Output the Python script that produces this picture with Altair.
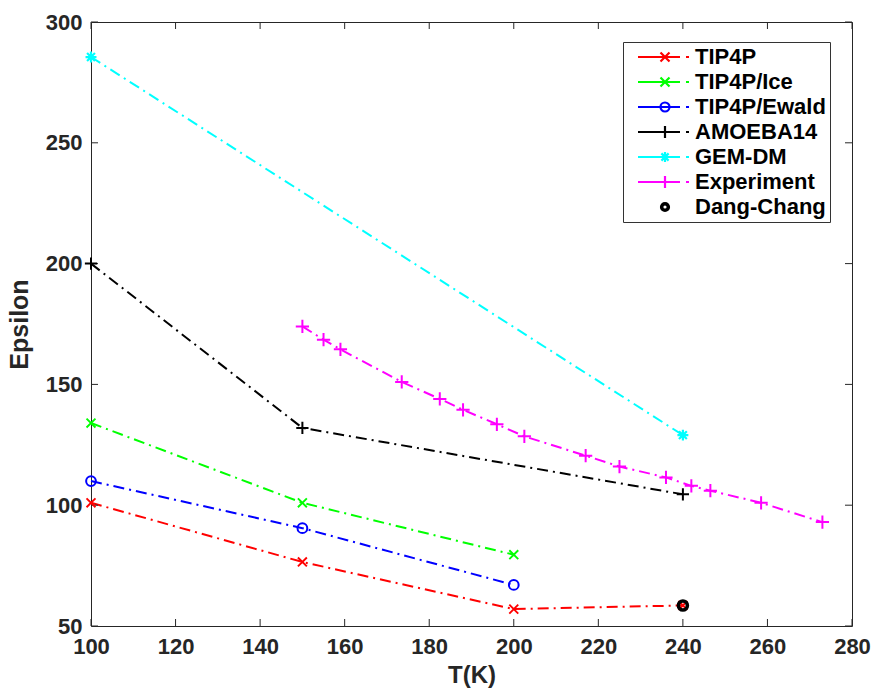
import altair as alt
import pandas as pd

# ---------------- data ----------------
series = ["TIP4P", "TIP4P/Ice", "TIP4P/Ewald", "AMOEBA14", "GEM-DM", "Experiment", "Dang-Chang"]
colors = ["#ff0000", "#00ff00", "#0000ff", "#000000", "#00ffff", "#ff00ff", "#000000"]

tip4p_T = [100, 150, 200, 240]
tip4p_E = [101, 76.5, 57, 58.5]
ice_T = [100, 150, 200]
ice_E = [134, 101, 79.5]
ewald_T = [100, 150, 200]
ewald_E = [110, 90.5, 67]
amoeba_T = [100, 150, 240]
amoeba_E = [200, 132, 104.5]
gem_T = [100, 240]
gem_E = [285.5, 129]
exp_T = [150, 155, 159, 173.5, 182.5, 188, 196, 202.5, 217, 225, 236, 242, 246.5, 258.5, 273]
exp_E = [174, 168.5, 164.5, 151, 144, 139.5, 133.5, 128.5, 120.5, 116, 111.5, 108, 106, 101, 93]
dc_T = [240]
dc_E = [58.5]

x_ticks = list(range(100, 281, 20))
y_ticks = list(range(50, 301, 50))

all_T = [tip4p_T, ice_T, ewald_T, amoeba_T, gem_T, exp_T, dc_T]
all_E = [tip4p_E, ice_E, ewald_E, amoeba_E, gem_E, exp_E, dc_E]

rows = []
for s, Ts, Es in zip(series, all_T, all_E):
    for i, (t, e) in enumerate(zip(Ts, Es)):
        rows.append({"series": s, "T": t, "E": e, "order": i})
df = pd.DataFrame(rows)

# ---------------- styles ----------------
FONT = "Liberation Sans"
AX = "#262626"
W, H = 761, 604
TICK = 7
X_PATH = "M-1,-1L1,1M-1,1L1,-1"
PLUS_PATH = "M-1,0L1,0M0,-1L0,1"
AST_PATH = "M-1,0L1,0M0,-1L0,1M-0.72,-0.72L0.72,0.72M-0.72,0.72L0.72,-0.72"

marker_shape = {"TIP4P": X_PATH, "TIP4P/Ice": X_PATH, "TIP4P/Ewald": "circle",
                "AMOEBA14": PLUS_PATH, "GEM-DM": AST_PATH, "Experiment": PLUS_PATH,
                "Dang-Chang": "circle"}
marker_size = {"TIP4P": 80, "TIP4P/Ice": 80, "TIP4P/Ewald": 95, "AMOEBA14": 150,
               "GEM-DM": 120, "Experiment": 175, "Dang-Chang": 80}
marker_sw = {"TIP4P": 1.9, "TIP4P/Ice": 1.9, "TIP4P/Ewald": 2.0, "AMOEBA14": 2.0,
             "GEM-DM": 2.2, "Experiment": 2.0, "Dang-Chang": 3.6}

# legend symbols: line + marker, in pixel units (symbolSize 4 -> scale 1)
LINE = "M0,0H42M48,0H51"
def leg_x(c, h):
    return f"M{c-h},{-h}L{c+h},{h}M{c-h},{h}L{c+h},{-h}"
def leg_plus(c, h):
    return f"M{c-h},0H{c+h}M{c},{-h}V{h}"
def leg_circle(c, r):
    return f"M{c-r},0A{r},{r} 0 1,0 {c+r},0A{r},{r} 0 1,0 {c-r},0"
def leg_ast(c, h):
    d = h * 0.72
    return leg_plus(c, h) + f"M{c-d},{-d}L{c+d},{d}M{c-d},{d}L{c+d},{-d}"

C = 27
legend_paths = [
    LINE + leg_x(C, 4.5),
    LINE + leg_x(C, 4.5),
    LINE + leg_circle(C, 4.5),
    LINE + leg_plus(C, 6),
    LINE + leg_ast(C, 5),
    LINE + leg_plus(C, 6),
    leg_circle(C, 4.0) + leg_circle(C, 2.7),
]

xscale = alt.Scale(domain=[100, 280], nice=False, zero=False)
yscale = alt.Scale(domain=[50, 300], nice=False, zero=False)

lab_axis = dict(grid=False, domain=False, ticks=False, tickSize=0, labelFont=FONT,
                labelFontSize=22, labelFontWeight="bold", labelColor=AX, titleFont=FONT,
                titleFontWeight="bold", titleColor=AX, labelFlush=False)

x_bottom = alt.Axis(orient="bottom", values=x_ticks, title="T(K)", labelPadding=10,
                    titlePadding=6, titleFontSize=24, **lab_axis)
y_left = alt.Axis(orient="left", values=y_ticks, title="Epsilon", labelPadding=9,
                  titlePadding=13, titleFontSize=25, **lab_axis)

line_df = df[df["series"] != "Dang-Chang"]

lines = alt.Chart(line_df).mark_line(strokeWidth=2, strokeDash=[11, 5, 2, 5]).encode(
    x=alt.X("T:Q", scale=xscale, axis=x_bottom),
    y=alt.Y("E:Q", scale=yscale, axis=y_left),
    color=alt.Color("series:N", scale=alt.Scale(domain=series[:6], range=colors[:6]), legend=None),
    detail="series:N",
    order="order:Q",
)

# inward tick marks on all four sides of the box
xt_df = pd.DataFrame({"v": x_ticks})
yt_df = pd.DataFrame({"v": y_ticks})
tick_style = dict(color=AX, strokeWidth=1)
ticks_bottom = alt.Chart(xt_df).mark_rule(**tick_style).encode(
    x=alt.X("v:Q", scale=xscale, axis=None), y=alt.value(H), y2=alt.value(H - TICK))
ticks_top = alt.Chart(xt_df).mark_rule(**tick_style).encode(
    x=alt.X("v:Q", scale=xscale, axis=None), y=alt.value(0), y2=alt.value(TICK))
ticks_left = alt.Chart(yt_df).mark_rule(**tick_style).encode(
    y=alt.Y("v:Q", scale=yscale, axis=None), x=alt.value(0), x2=alt.value(TICK))
ticks_right = alt.Chart(yt_df).mark_rule(**tick_style).encode(
    y=alt.Y("v:Q", scale=yscale, axis=None), x=alt.value(W), x2=alt.value(W - TICK))

layers = [lines, ticks_bottom, ticks_top, ticks_left, ticks_right]
for k, s in enumerate(series):
    sub = df[df["series"] == s]
    pts = alt.Chart(sub).mark_point(
        shape=marker_shape[s], size=marker_size[s], filled=False,
        strokeWidth=marker_sw[s], color=colors[k], opacity=1,
    ).encode(
        x=alt.X("T:Q", scale=xscale, axis=None),
        y=alt.Y("E:Q", scale=yscale, axis=None),
    )
    layers.append(pts)

leg_df = pd.DataFrame({"series": series, "T": [100] * 7, "E": [100] * 7})
legend_layer = alt.Chart(leg_df).mark_point(filled=False, strokeWidth=2.2).encode(
    x=alt.X("T:Q", scale=xscale, axis=None),
    y=alt.Y("E:Q", scale=yscale, axis=None),
    stroke=alt.Stroke("series:N", scale=alt.Scale(domain=series, range=colors),
                      legend=alt.Legend(title=None)),
    shape=alt.Shape("series:N", scale=alt.Scale(domain=series, range=legend_paths),
                    legend=alt.Legend(title=None)),
).transform_filter("false")
layers.append(legend_layer)

chart = alt.layer(*layers).resolve_axis(x="independent", y="independent").properties(
    width=W, height=H,
    padding={"left": 91, "top": 22, "right": 23, "bottom": 62},
    autosize=alt.AutoSizeParams(type="none"),
    background="white",
).configure_view(stroke=AX, strokeWidth=1).configure_legend(
    orient="none", legendX=532, legendY=20,
    symbolSize=4, symbolStrokeWidth=2.2, symbolOpacity=1,
    labelFont=FONT, labelFontSize=22, labelFontWeight="bold", labelColor="#000000",
    labelOffset=46, labelLimit=300, rowPadding=3,
    padding=4, strokeColor="#333333", fillColor="white",
)

chart.save("out.html", embed_options={"renderer": "svg", "actions": False})
